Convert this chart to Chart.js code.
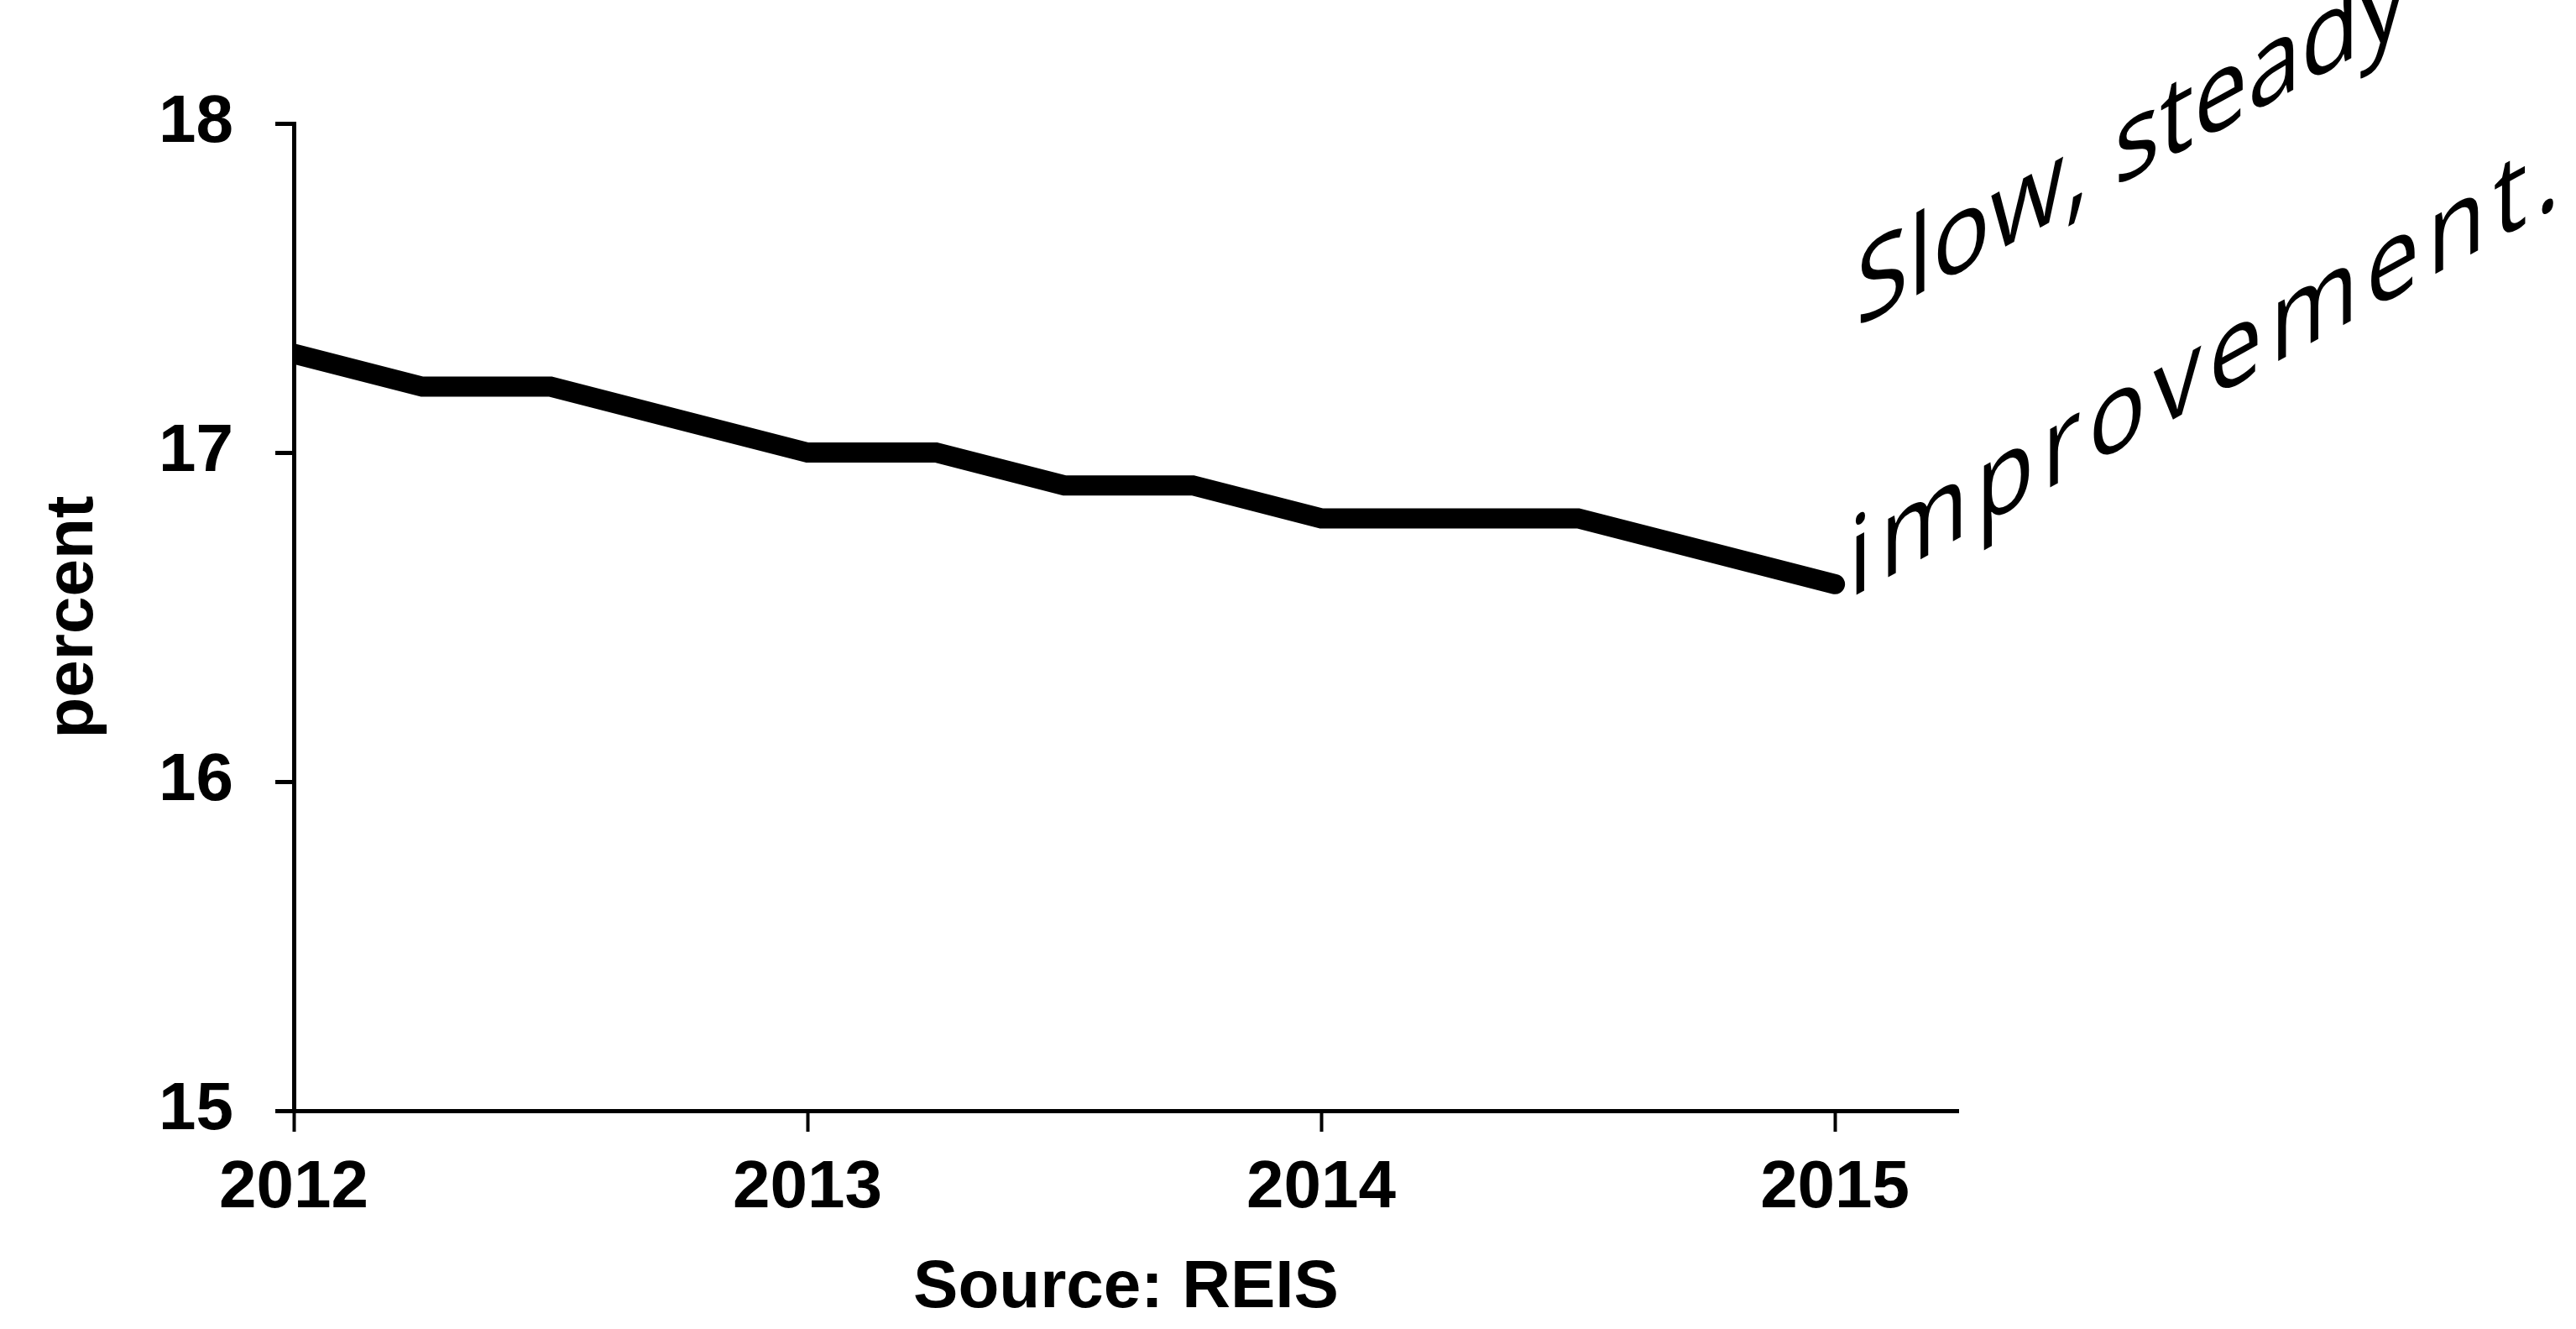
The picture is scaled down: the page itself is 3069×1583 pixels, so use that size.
<!DOCTYPE html>
<html>
<head>
<meta charset="utf-8">
<script src="https://cdn.jsdelivr.net/npm/chart.js@4/dist/chart.umd.min.js"></script>
<style>
  html, body { margin: 0; padding: 0; background: #fff; }
  #wrap { width: 3069px; height: 1583px; position: relative; }
</style>
</head>
<body>
<div id="wrap"><canvas id="vacancyChart" width="3069" height="1583"></canvas></div>
<script>
  // quarterly office vacancy rate
  const quarters = [2012, 2012.25, 2012.5, 2012.75, 2013, 2013.25, 2013.5, 2013.75,
                    2014, 2014.25, 2014.5, 2014.75, 2015];
  const vacancyRate = [17.3, 17.2, 17.2, 17.1, 17.0, 17.0, 16.9, 16.9,
                       16.8, 16.8, 16.8, 16.7, 16.6];
  const yearTicks = [2012, 2013, 2014, 2015];
  const percentTicks = [15, 16, 17, 18];
  const noteLines = ['Slow, steady', 'improvement.'];

  const boldFont = { family: '"Liberation Sans", Arial, sans-serif', weight: 'bold', size: 80 };

  // handwritten note: letters stay upright, baseline slopes up to the right
  const handNote = {
    id: 'handNote',
    afterDraw(chart) {
      const ctx = chart.ctx;
      const spots = [
        { x0: 2211, y0: 391, x1: 2800, y1: 70 },
        { x0: 2202, y0: 714, x1: 3050, y1: 244 }
      ];
      ctx.save();
      ctx.fillStyle = '#000';
      ctx.font = '400 130px "Open Sans", "DejaVu Sans", sans-serif';
      ctx.textBaseline = 'alphabetic';
      noteLines.forEach((txt, i) => {
        const s = spots[i];
        const dx = s.x1 - s.x0, dy = s.y1 - s.y0;
        const len = Math.hypot(dx, dy);
        ctx.letterSpacing = '0px';
        const w = ctx.measureText(txt).width;
        ctx.letterSpacing = Math.max(0, (len - w) / (txt.length - 1)) + 'px';
        ctx.save();
        ctx.setTransform(dx / len, dy / len, 0, 1, s.x0, s.y0);
        ctx.fillText(txt, 0, 0);
        ctx.restore();
      });
      ctx.restore();
    }
  };

  const ctx = document.getElementById('vacancyChart').getContext('2d');

  new Chart(ctx, {
    type: 'line',
    data: {
      datasets: [{
        data: quarters.map((q, i) => ({ x: q, y: vacancyRate[i] })),
        borderColor: '#000',
        borderWidth: 24,
        borderCapStyle: 'round',
        pointRadius: 0,
        tension: 0,
        fill: false,
        clip: { left: 0, top: 30, right: 30, bottom: 0 }
      }]
    },
    options: {
      responsive: false,
      animation: false,
      events: [],
      layout: { padding: { left: 0, top: 147, right: 736, bottom: 0 } },
      plugins: {
        legend: { display: false },
        tooltip: { enabled: false }
      },
      scales: {
        x: {
          type: 'linear',
          min: 2012,
          max: 2015.24,
          afterBuildTicks: scale => { scale.ticks = yearTicks.map(v => ({ value: v })); },
          afterFit: scale => { scale.height = 260; },
          grid: { drawOnChartArea: false, tickLength: 25, tickWidth: 4, tickColor: '#000' },
          border: { display: true, color: '#000', width: 5 },
          ticks: { color: '#000', font: boldFont, padding: 20, maxRotation: 0, callback: v => String(v) },
          title: { display: true, text: 'Source: REIS', color: '#000', font: boldFont, padding: { top: 0, bottom: 0 } }
        },
        y: {
          min: 15,
          max: 18,
          afterBuildTicks: scale => { scale.ticks = percentTicks.map(v => ({ value: v })); },
          afterFit: scale => { scale.width = 350; },
          grid: { drawOnChartArea: false, tickLength: 22, tickWidth: 5, tickColor: '#000' },
          border: { display: true, color: '#000', width: 5 },
          ticks: { color: '#000', font: boldFont, padding: 50 },
          title: { display: true, text: 'percent', color: '#000', font: boldFont, padding: { top: 40, bottom: 0 } }
        }
      }
    },
    plugins: [handNote]
  });
</script>
</body>
</html>
